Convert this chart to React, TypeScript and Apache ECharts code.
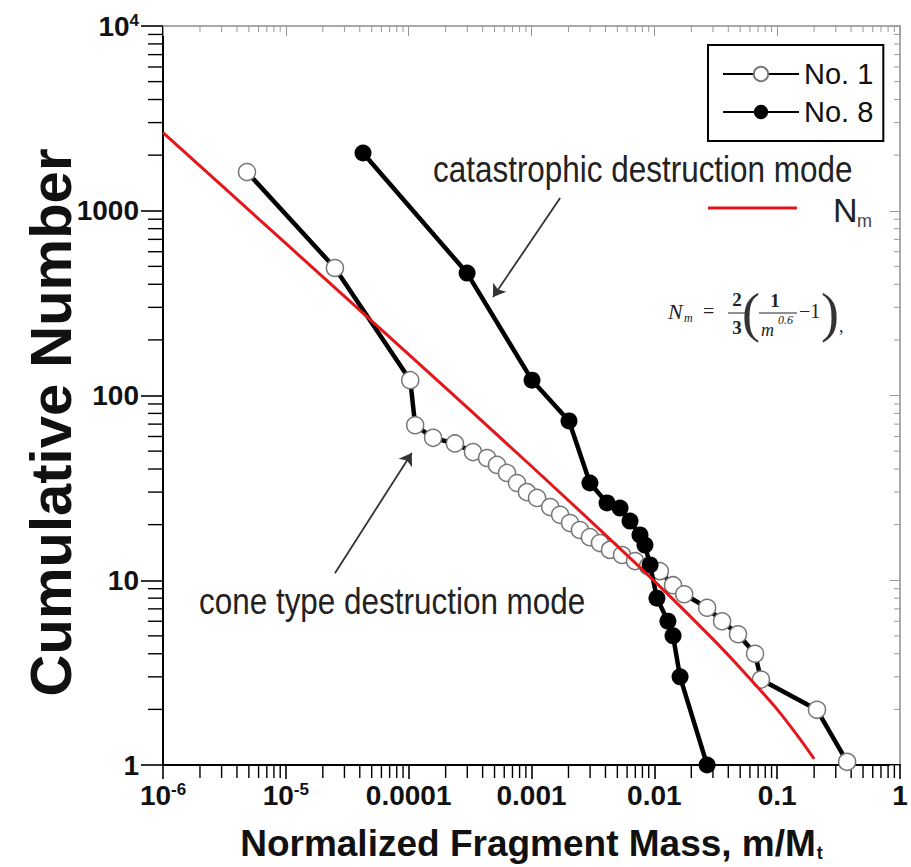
import React, { useEffect, useRef } from "react";
import * as echarts from "echarts";

// ---- data ----
const no1Mass = [4.83e-6, 2.51e-5, 1.03e-4, 1.13e-4, 1.58e-4, 2.38e-4, 3.34e-4, 4.35e-4, 5.24e-4, 6.32e-4, 7.62e-4, 9.18e-4, 1.11e-3, 1.42e-3, 1.71e-3, 2.06e-3, 2.48e-3, 2.99e-3, 3.61e-3, 4.36e-3, 5.46e-3, 6.97e-3, 8.89e-3, 1.11e-2, 1.42e-2, 1.75e-2, 2.69e-2, 3.56e-2, 4.8e-2, 6.61e-2, 7.38e-2, 0.211, 0.371];
const no1Count = [1620, 490, 121, 69, 59, 55, 49.4, 45.9, 42.1, 38.1, 33.6, 30, 27.9, 24.9, 22.6, 20.4, 18.7, 17.1, 15.9, 14.6, 13.7, 12.7, 11.9, 11.2, 9.4, 8.4, 7.1, 6.0, 5.1, 4.0, 2.9, 1.99, 1.04];

const no8Mass = [4.25e-5, 2.99e-4, 1.01e-3, 2.02e-3, 2.99e-3, 4.12e-3, 5.26e-3, 6.34e-3, 7.64e-3, 8.39e-3, 9.23e-3, 1.05e-2, 1.29e-2, 1.42e-2, 1.62e-2, 2.69e-2];
const no8Count = [2054, 460, 121, 72.8, 33.6, 26.2, 24.6, 20.9, 17.6, 15.5, 12.1, 8.0, 6.0, 5.0, 3.0, 1];

const nmMass = [1e-6, 1e-5, 1e-4, 1e-3, 0.01, 0.03, 0.05, 0.1, 0.15, 0.2];
const nmCount = [2650, 665, 167, 41.4, 9.9, 4.8, 3.35, 2.0, 1.41, 1.08];

const xTickLabels = ["10{sup|-6}", "10{sup|-5}", "0.0001", "0.001", "0.01", "0.1", "1"];
const yTickLabels = ["1", "10", "100", "1000", "10{sup|4}"];

const seriesNames = ["No. 1", "No. 8"];

// minor tick values of the log axes (2..9 per decade)
const xMinorTicks: number[] = [];
for (let d = -6; d <= -1; d++) for (let k = 2; k <= 9; k++) xMinorTicks.push(k * Math.pow(10, d));
const yMinorTicks: number[] = [];
for (let d = 0; d <= 3; d++) for (let k = 2; k <= 9; k++) yMinorTicks.push(k * Math.pow(10, d));

const SANS = "'Liberation Sans', Arial, sans-serif";
const SERIF = "'Liberation Serif', 'Times New Roman', serif";
const RED = "#e3171b";

const zip = (a: number[], b: number[]) => a.map((v, i) => [v, b[i]]);

export default function App() {
  const ref = useRef<HTMLDivElement>(null);

  useEffect(() => {
    const chart = echarts.init(ref.current!, null, { renderer: "svg" });

    const tickLabelStyle = {
      fontFamily: SANS,
      fontWeight: "bold" as const,
      fontSize: 28,
      color: "#111",
      rich: {
        sup: { fontFamily: SANS, fontWeight: "bold" as const, fontSize: 17, verticalAlign: "top" as const, color: "#111" },
      },
    };

    const option: any = {
      animation: false,
      backgroundColor: "#fff",
      grid: { left: 163, right: 11, top: 26, bottom: 102, containLabel: false, outerBoundsMode: "none" },
      legend: {
        data: seriesNames,
        orient: "vertical",
        left: 708,
        top: 45,
        padding: [10, 10, 10, 14],
        itemGap: 0,
        itemWidth: 76,
        itemHeight: 18,
        borderColor: "#000",
        borderWidth: 2,
        backgroundColor: "#fff",
        textStyle: { fontFamily: SANS, fontSize: 29, color: "#111", lineHeight: 38 },
      },
      xAxis: [
        {
          type: "log",
          logBase: 10,
          min: 1e-6,
          max: 1,
          splitNumber: 6,
          position: "bottom",
          name: "Normalized Fragment Mass, m/M{sub|t}",
          nameLocation: "middle",
          nameGap: 60,
          nameMoveOverlap: false,
          nameTextStyle: {
            fontFamily: SANS,
            fontWeight: "bold",
            fontSize: 37,
            color: "#111",
            rich: { sub: { fontFamily: SANS, fontSize: 18, color: "#111", verticalAlign: "bottom", padding: [12, 0, 0, 1] } },
          },
          axisLine: { show: true, lineStyle: { color: "#000", width: 2 } },
          axisTick: { show: true, inside: false, length: 14, lineStyle: { color: "#000", width: 1.6 } },
          axisLabel: {
            ...tickLabelStyle,
            margin: 16,
            showMinLabel: true,
            showMaxLabel: true,
            formatter: (v: number) => xTickLabels[Math.round(Math.log10(v)) + 6] ?? "",
          },
          splitLine: { show: false },
          minorTick: { show: false },
        },
        {
          type: "log",
          logBase: 10,
          min: 1e-6,
          max: 1,
          splitNumber: 6,
          position: "top",
          axisLine: { show: true, lineStyle: { color: "#aaa", width: 2 } },
          axisTick: { show: true, inside: true, length: 10, lineStyle: { color: "#999", width: 1 } },
          axisLabel: { show: false },
          splitLine: { show: false },
        },
      ],
      yAxis: [
        {
          type: "log",
          logBase: 10,
          min: 1,
          max: 1e4,
          splitNumber: 4,
          position: "left",
          name: "Cumulative Number",
          nameLocation: "middle",
          nameRotate: 90,
          nameGap: 84,
          nameMoveOverlap: false,
          nameTextStyle: { fontFamily: SANS, fontWeight: "bold", fontSize: 58, color: "#111", padding: [0, 54, 0, 0] },
          axisLine: { show: true, lineStyle: { color: "#000", width: 2 } },
          axisTick: { show: true, inside: false, length: 22, lineStyle: { color: "#000", width: 1.6 } },
          axisLabel: {
            ...tickLabelStyle,
            margin: 24,
            showMinLabel: true,
            showMaxLabel: true,
            formatter: (v: number) => yTickLabels[Math.round(Math.log10(v))] ?? "",
          },
          splitLine: { show: false },
          minorTick: { show: false },
        },
        {
          type: "log",
          logBase: 10,
          min: 1,
          max: 1e4,
          splitNumber: 4,
          position: "right",
          axisLine: { show: true, lineStyle: { color: "#aaa", width: 2 } },
          axisTick: { show: true, inside: true, length: 10, lineStyle: { color: "#999", width: 1 } },
          axisLabel: { show: false },
          splitLine: { show: false },
        },
      ],
      series: [
        {
          type: "custom",
          name: "xMinor",
          silent: true,
          xAxisIndex: 0,
          yAxisIndex: 0,
          encode: { x: 0, y: 1 },
          data: xMinorTicks.map((v) => [v, 1]),
          renderItem: (params: any, api: any) => {
            const v = api.value(0);
            const b = api.coord([v, 1]);
            const t = api.coord([v, 1e4]);
            return {
              type: "group",
              children: [
                { type: "line", shape: { x1: b[0], y1: b[1], x2: b[0], y2: b[1] + 13 }, style: { stroke: "#000", lineWidth: 1.4 } },
                { type: "line", shape: { x1: t[0], y1: t[1], x2: t[0], y2: t[1] + 6 }, style: { stroke: "#999", lineWidth: 1 } },
              ],
            };
          },
        },
        {
          type: "custom",
          name: "yMinor",
          silent: true,
          xAxisIndex: 0,
          yAxisIndex: 0,
          encode: { x: 0, y: 1 },
          data: yMinorTicks.map((v) => [1e-6, v]),
          renderItem: (params: any, api: any) => {
            const v = api.value(1);
            const l = api.coord([1e-6, v]);
            const r = api.coord([1, v]);
            return {
              type: "group",
              children: [
                { type: "line", shape: { x1: l[0] - 15, y1: l[1], x2: l[0], y2: l[1] }, style: { stroke: "#000", lineWidth: 1.4 } },
                { type: "line", shape: { x1: r[0] - 6, y1: r[1], x2: r[0], y2: r[1] }, style: { stroke: "#999", lineWidth: 1 } },
              ],
            };
          },
        },
        {
          type: "line",
          name: "No. 1",
          data: zip(no1Mass, no1Count),
          symbol: "circle",
          symbolSize: 17,
          showAllSymbol: true,
          lineStyle: { color: "#000", width: 4.5 },
          itemStyle: { color: "#fff", borderColor: "#777", borderWidth: 1.5 },
          z: 3,
        },
        {
          type: "line",
          name: "No. 8",
          data: zip(no8Mass, no8Count),
          symbol: "circle",
          symbolSize: 17,
          showAllSymbol: true,
          lineStyle: { color: "#000", width: 4.5 },
          itemStyle: { color: "#000" },
          z: 4,
        },
        {
          type: "line",
          name: "Nm",
          data: zip(nmMass, nmCount),
          symbol: "none",
          smooth: 0.25,
          lineStyle: { color: RED, width: 3 },
          z: 5,
          markLine: {
            silent: true,
            symbol: ["none", "arrow"],
            symbolSize: 12,
            label: { show: false },
            lineStyle: { color: "#333", width: 1.8, type: "solid" },
            data: [
              [{ coord: [1.71e-3, 1172] }, { coord: [4.86e-4, 341] }],
              [{ coord: [2.51e-5, 10.9] }, { coord: [1.06e-4, 48.9] }],
            ],
          },
        },
      ],
      graphic: [
        { type: "text", x: 433, y: 169, scaleX: 0.85, silent: true, style: { text: "catastrophic destruction mode", font: `37px ${SANS}`, fill: "#222", verticalAlign: "middle" } },
        { type: "text", x: 199, y: 601, scaleX: 0.85, silent: true, style: { text: "cone type destruction mode", font: `37px ${SANS}`, fill: "#222", verticalAlign: "middle" } },
        { type: "line", silent: true, shape: { x1: 708, y1: 208, x2: 797, y2: 208 }, style: { stroke: RED, lineWidth: 3 } },
        { type: "text", x: 833, y: 210, silent: true, style: { text: "N", font: `34px ${SANS}`, fill: "#222", verticalAlign: "middle" } },
        { type: "text", x: 857, y: 221, silent: true, style: { text: "m", font: `18px ${SANS}`, fill: "#444", verticalAlign: "middle" } },
        // formula
        { type: "text", x: 668, y: 311, silent: true, style: { text: "N", font: `italic 22px ${SERIF}`, fill: "#222", verticalAlign: "middle" } },
        { type: "text", x: 684, y: 318, silent: true, style: { text: "m", font: `italic 12px ${SERIF}`, fill: "#222", verticalAlign: "middle" } },
        { type: "text", x: 703, y: 311, silent: true, style: { text: "=", font: `20px ${SERIF}`, fill: "#222", verticalAlign: "middle" } },
        { type: "text", x: 737, y: 299, silent: true, style: { text: "2", font: `bold 19px ${SERIF}`, fill: "#222", align: "center", verticalAlign: "middle" } },
        { type: "line", silent: true, shape: { x1: 728, y1: 313, x2: 746, y2: 313 }, style: { stroke: "#222", lineWidth: 1 } },
        { type: "text", x: 737, y: 327, silent: true, style: { text: "3", font: `bold 19px ${SERIF}`, fill: "#222", align: "center", verticalAlign: "middle" } },
        { type: "text", x: 742, y: 313, silent: true, style: { text: "(", font: `54px ${SERIF}`, fill: "#333", verticalAlign: "middle" } },
        { type: "text", x: 775, y: 300, silent: true, style: { text: "1", font: `bold 19px ${SERIF}`, fill: "#222", align: "center", verticalAlign: "middle" } },
        { type: "line", silent: true, shape: { x1: 759, y1: 313, x2: 797, y2: 313 }, style: { stroke: "#222", lineWidth: 1 } },
        { type: "text", x: 761, y: 330, silent: true, style: { text: "m", font: `italic 18px ${SERIF}`, fill: "#222", verticalAlign: "middle" } },
        { type: "text", x: 778, y: 320, silent: true, style: { text: "0.6", font: `italic 12px ${SERIF}`, fill: "#222", verticalAlign: "middle" } },
        { type: "text", x: 799, y: 311, silent: true, style: { text: "\u22121", font: `20px ${SERIF}`, fill: "#222", verticalAlign: "middle" } },
        { type: "text", x: 821, y: 313, silent: true, style: { text: ")", font: `54px ${SERIF}`, fill: "#333", verticalAlign: "middle" } },
        { type: "text", x: 839, y: 326, silent: true, style: { text: ",", font: `18px ${SERIF}`, fill: "#222", verticalAlign: "middle" } },
      ],
    };

    chart.setOption(option);
    return () => chart.dispose();
  }, []);

  return <div ref={ref} style={{ position: "fixed", left: 0, top: 0, width: 911, height: 867, background: "#fff" }} />;
}
